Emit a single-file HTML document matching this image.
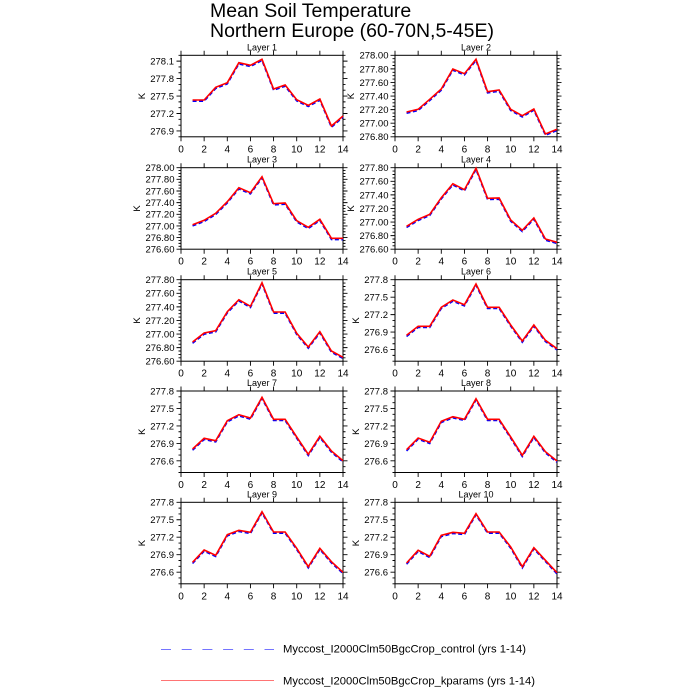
<!DOCTYPE html>
<html><head><meta charset="utf-8"><style>
html,body{margin:0;padding:0;background:#fff;}
svg{display:block;}
text{font-family:"Liberation Sans",Arial,sans-serif;fill:#000;}
.yl{font-size:9.5px;text-anchor:end;}
.xl{font-size:10px;text-anchor:middle;}
.lt{font-size:9px;text-anchor:middle;}
.k{font-size:9.5px;text-anchor:middle;}
.ti{font-size:19.5px;}
.lg{font-size:11.2px;}
.bx{fill:none;stroke:#000;stroke-width:1;}
.tk{fill:none;stroke:#000;stroke-width:0.9;}
.b{fill:none;stroke:#0000ff;stroke-width:1.6;stroke-dasharray:4,2.5;}
.r{fill:none;stroke:#ff0000;stroke-width:1.6;}
</style></head><body>
<svg width="700" height="700" viewBox="0 0 700 700" xmlns="http://www.w3.org/2000/svg" xmlns:xlink="http://www.w3.org/1999/xlink">
<defs>
<path id="xt" class="tk" d="M0,0v-4.5M23.14,0v-4.5M46.29,0v-4.5M69.43,0v-4.5M92.57,0v-4.5M115.71,0v-4.5M138.86,0v-4.5M162,0v-4.5M0,81.5v4.5M23.14,81.5v4.5M46.29,81.5v4.5M69.43,81.5v4.5M92.57,81.5v4.5M115.71,81.5v4.5M138.86,81.5v4.5M162,81.5v4.5"/>
<path id="ytA" class="tk" d="M0,5.82h-4.5M0,23.29h-4.5M0,40.75h-4.5M0,58.21h-4.5M0,75.68h-4.5M162,5.82h4.5M162,23.29h4.5M162,40.75h4.5M162,58.21h4.5M162,75.68h4.5M0,0h-2.5M0,11.64h-2.5M0,17.46h-2.5M0,29.11h-2.5M0,34.93h-2.5M0,46.57h-2.5M0,52.39h-2.5M0,64.04h-2.5M0,69.86h-2.5M0,81.5h-2.5M162,0h2.5M162,11.64h2.5M162,17.46h2.5M162,29.11h2.5M162,34.93h2.5M162,46.57h2.5M162,52.39h2.5M162,64.04h2.5M162,69.86h2.5M162,81.5h2.5"/>
<path id="ytB" class="tk" d="M0,0h-4.5M0,13.58h-4.5M0,27.17h-4.5M0,40.75h-4.5M0,54.33h-4.5M0,67.92h-4.5M0,81.5h-4.5M162,0h4.5M162,13.58h4.5M162,27.17h4.5M162,40.75h4.5M162,54.33h4.5M162,67.92h4.5M162,81.5h4.5M0,3.4h-2.5M0,6.79h-2.5M0,10.19h-2.5M0,16.98h-2.5M0,20.38h-2.5M0,23.77h-2.5M0,30.56h-2.5M0,33.96h-2.5M0,37.36h-2.5M0,44.15h-2.5M0,47.54h-2.5M0,50.94h-2.5M0,57.73h-2.5M0,61.13h-2.5M0,64.52h-2.5M0,71.31h-2.5M0,74.71h-2.5M0,78.1h-2.5M162,3.4h2.5M162,6.79h2.5M162,10.19h2.5M162,16.98h2.5M162,20.38h2.5M162,23.77h2.5M162,30.56h2.5M162,33.96h2.5M162,37.36h2.5M162,44.15h2.5M162,47.54h2.5M162,50.94h2.5M162,57.73h2.5M162,61.13h2.5M162,64.52h2.5M162,71.31h2.5M162,74.71h2.5M162,78.1h2.5"/>
<path id="ytC" class="tk" d="M0,0h-4.5M0,11.64h-4.5M0,23.29h-4.5M0,34.93h-4.5M0,46.57h-4.5M0,58.21h-4.5M0,69.86h-4.5M0,81.5h-4.5M162,0h4.5M162,11.64h4.5M162,23.29h4.5M162,34.93h4.5M162,46.57h4.5M162,58.21h4.5M162,69.86h4.5M162,81.5h4.5M0,2.91h-2.5M0,5.82h-2.5M0,8.73h-2.5M0,14.55h-2.5M0,17.46h-2.5M0,20.38h-2.5M0,26.2h-2.5M0,29.11h-2.5M0,32.02h-2.5M0,37.84h-2.5M0,40.75h-2.5M0,43.66h-2.5M0,49.49h-2.5M0,52.39h-2.5M0,55.3h-2.5M0,61.13h-2.5M0,64.04h-2.5M0,66.95h-2.5M0,72.77h-2.5M0,75.68h-2.5M0,78.59h-2.5M162,2.91h2.5M162,5.82h2.5M162,8.73h2.5M162,14.55h2.5M162,17.46h2.5M162,20.38h2.5M162,26.2h2.5M162,29.11h2.5M162,32.02h2.5M162,37.84h2.5M162,40.75h2.5M162,43.66h2.5M162,49.49h2.5M162,52.39h2.5M162,55.3h2.5M162,61.13h2.5M162,64.04h2.5M162,66.95h2.5M162,72.77h2.5M162,75.68h2.5M162,78.59h2.5"/>
<path id="ytE" class="tk" d="M0,0h-4.5M0,17.46h-4.5M0,34.93h-4.5M0,52.39h-4.5M0,69.86h-4.5M162,0h4.5M162,17.46h4.5M162,34.93h4.5M162,52.39h4.5M162,69.86h4.5M0,5.82h-2.5M0,11.64h-2.5M0,23.29h-2.5M0,29.11h-2.5M0,40.75h-2.5M0,46.57h-2.5M0,58.21h-2.5M0,64.04h-2.5M0,75.68h-2.5M0,81.5h-2.5M162,5.82h2.5M162,11.64h2.5M162,23.29h2.5M162,29.11h2.5M162,40.75h2.5M162,46.57h2.5M162,58.21h2.5M162,64.04h2.5M162,75.68h2.5M162,81.5h2.5"/>
</defs>

<text class="ti" x="210" y="17">Mean Soil Temperature</text>
<text class="ti" x="210" y="37">Northern Europe (60-70N,5-45E)</text>

<!-- Panel 1 -->
<g transform="translate(181,55.3)">
<rect class="bx" x="0" y="0" width="162" height="81.5"/>
<use xlink:href="#xt"/><use xlink:href="#ytA"/>
<polyline class="b" transform="translate(0,1.2)" points="11.57,44.7 23.14,44.7 34.71,32 46.29,27.4 57.86,7.4 69.43,10 81,4 92.57,33.7 104.14,29.7 115.71,44.4 127.29,50 138.86,43.7 150.43,70.7 162,60.7"/>
<polyline class="r" points="11.57,44.7 23.14,44.7 34.71,32 46.29,27.4 57.86,7.4 69.43,10 81,4 92.57,33.7 104.14,29.7 115.71,44.4 127.29,50 138.86,43.7 150.43,70.7 162,60.7"/>
<text class="lt" x="81" y="-5">Layer 1</text>
<text class="yl" x="-7" y="9.2">278.1</text><text class="yl" x="-7" y="26.7">277.8</text><text class="yl" x="-7" y="44.1">277.5</text><text class="yl" x="-7" y="61.6">277.2</text><text class="yl" x="-7" y="79.1">276.9</text>
<text class="k" transform="translate(-39.5,40.75) rotate(-90)" dy="3.5">K</text>
<text class="xl" x="0" y="97">0</text><text class="xl" x="23.14" y="97">2</text><text class="xl" x="46.29" y="97">4</text><text class="xl" x="69.43" y="97">6</text><text class="xl" x="92.57" y="97">8</text><text class="xl" x="115.71" y="97">10</text><text class="xl" x="138.86" y="97">12</text><text class="xl" x="162" y="97">14</text>
</g>

<!-- Panel 2 -->
<g transform="translate(395,55.3)">
<rect class="bx" x="0" y="0" width="162" height="81.5"/>
<use xlink:href="#xt"/><use xlink:href="#ytB"/>
<polyline class="b" transform="translate(0,1.2)" points="11.57,56.7 23.14,54 34.71,44 46.29,33.7 57.86,13.7 69.43,18.4 81,4 92.57,36.4 104.14,34.7 115.71,54 127.29,60.4 138.86,53.7 150.43,78.7 162,74"/>
<polyline class="r" points="11.57,56.7 23.14,54 34.71,44 46.29,33.7 57.86,13.7 69.43,18.4 81,4 92.57,36.4 104.14,34.7 115.71,54 127.29,60.4 138.86,53.7 150.43,78.7 162,74"/>
<text class="lt" x="81" y="-5">Layer 2</text>
<text class="yl" x="-6.5" y="3.4">278.00</text><text class="yl" x="-6.5" y="17">277.80</text><text class="yl" x="-6.5" y="30.6">277.60</text><text class="yl" x="-6.5" y="44.1">277.40</text><text class="yl" x="-6.5" y="57.7">277.20</text><text class="yl" x="-6.5" y="71.3">277.00</text><text class="yl" x="-6.5" y="84.9">276.80</text>
<text class="k" transform="translate(-44.5,40.75) rotate(-90)" dy="3.5">K</text>
<text class="xl" x="0" y="97">0</text><text class="xl" x="23.14" y="97">2</text><text class="xl" x="46.29" y="97">4</text><text class="xl" x="69.43" y="97">6</text><text class="xl" x="92.57" y="97">8</text><text class="xl" x="115.71" y="97">10</text><text class="xl" x="138.86" y="97">12</text><text class="xl" x="162" y="97">14</text>
</g>

<!-- Panel 3 -->
<g transform="translate(181,167.7)">
<rect class="bx" x="0" y="0" width="162" height="81.5"/>
<use xlink:href="#xt"/><use xlink:href="#ytC"/>
<polyline class="b" transform="translate(0,1.2)" points="11.57,57 23.14,52.6 34.71,45.6 46.29,34 57.86,20 69.43,25 81,9 92.57,36 104.14,35.3 115.71,53 127.29,59.6 138.86,51.6 150.43,70.6 162,70.8"/>
<polyline class="r" points="11.57,57 23.14,52.6 34.71,45.6 46.29,34 57.86,20 69.43,25 81,9 92.57,36 104.14,35.3 115.71,53 127.29,59.6 138.86,51.6 150.43,70.6 162,70.6"/>
<text class="lt" x="81" y="-5">Layer 3</text>
<text class="yl" x="-6.5" y="3.4">278.00</text><text class="yl" x="-6.5" y="15">277.80</text><text class="yl" x="-6.5" y="26.7">277.60</text><text class="yl" x="-6.5" y="38.3">277.40</text><text class="yl" x="-6.5" y="50">277.20</text><text class="yl" x="-6.5" y="61.6">277.00</text><text class="yl" x="-6.5" y="73.3">276.80</text><text class="yl" x="-6.5" y="84.9">276.60</text>
<text class="k" transform="translate(-44.5,40.75) rotate(-90)" dy="3.5">K</text>
<text class="xl" x="0" y="97">0</text><text class="xl" x="23.14" y="97">2</text><text class="xl" x="46.29" y="97">4</text><text class="xl" x="69.43" y="97">6</text><text class="xl" x="92.57" y="97">8</text><text class="xl" x="115.71" y="97">10</text><text class="xl" x="138.86" y="97">12</text><text class="xl" x="162" y="97">14</text>
</g>

<!-- Panel 4 -->
<g transform="translate(395,167.7)">
<rect class="bx" x="0" y="0" width="162" height="81.5"/>
<use xlink:href="#xt"/><use xlink:href="#ytB"/>
<polyline class="b" transform="translate(0,1.2)" points="11.57,58.6 23.14,51.6 34.71,46.6 46.29,30 57.86,16 69.43,22 81,0.6 92.57,30.6 104.14,30.3 115.71,52.3 127.29,62.6 138.86,50.3 150.43,71.3 162,74.6"/>
<polyline class="r" points="11.57,58.6 23.14,51.6 34.71,46.6 46.29,30 57.86,16 69.43,22 81,0.6 92.57,30.6 104.14,30.3 115.71,52.3 127.29,62.6 138.86,50.3 150.43,71.3 162,74.6"/>
<text class="lt" x="81" y="-5">Layer 4</text>
<text class="yl" x="-6.5" y="3.4">277.80</text><text class="yl" x="-6.5" y="17">277.60</text><text class="yl" x="-6.5" y="30.6">277.40</text><text class="yl" x="-6.5" y="44.1">277.20</text><text class="yl" x="-6.5" y="57.7">277.00</text><text class="yl" x="-6.5" y="71.3">276.80</text><text class="yl" x="-6.5" y="84.9">276.60</text>
<text class="k" transform="translate(-44.5,40.75) rotate(-90)" dy="3.5">K</text>
<text class="xl" x="0" y="97">0</text><text class="xl" x="23.14" y="97">2</text><text class="xl" x="46.29" y="97">4</text><text class="xl" x="69.43" y="97">6</text><text class="xl" x="92.57" y="97">8</text><text class="xl" x="115.71" y="97">10</text><text class="xl" x="138.86" y="97">12</text><text class="xl" x="162" y="97">14</text>
</g>

<!-- Panel 5 -->
<g transform="translate(181,279.7)">
<rect class="bx" x="0" y="0" width="162" height="81.5"/>
<use xlink:href="#xt"/><use xlink:href="#ytB"/>
<polyline class="b" transform="translate(0,1.2)" points="11.57,62.3 23.14,53.3 34.71,51 46.29,32 57.86,20 69.43,26.6 81,3 92.57,32.3 104.14,32.3 115.71,53.6 127.29,67.3 138.86,52 150.43,71.3 162,77.6"/>
<polyline class="r" points="11.57,62.3 23.14,53.3 34.71,51 46.29,32 57.86,20 69.43,26.6 81,3 92.57,32.3 104.14,32.3 115.71,53.6 127.29,67.3 138.86,52 150.43,71.3 162,77.6"/>
<text class="lt" x="81" y="-5">Layer 5</text>
<text class="yl" x="-6.5" y="3.4">277.80</text><text class="yl" x="-6.5" y="17">277.60</text><text class="yl" x="-6.5" y="30.6">277.40</text><text class="yl" x="-6.5" y="44.1">277.20</text><text class="yl" x="-6.5" y="57.7">277.00</text><text class="yl" x="-6.5" y="71.3">276.80</text><text class="yl" x="-6.5" y="84.9">276.60</text>
<text class="k" transform="translate(-44.5,40.75) rotate(-90)" dy="3.5">K</text>
<text class="xl" x="0" y="97">0</text><text class="xl" x="23.14" y="97">2</text><text class="xl" x="46.29" y="97">4</text><text class="xl" x="69.43" y="97">6</text><text class="xl" x="92.57" y="97">8</text><text class="xl" x="115.71" y="97">10</text><text class="xl" x="138.86" y="97">12</text><text class="xl" x="162" y="97">14</text>
</g>

<!-- Panel 6 -->
<g transform="translate(395,279.7)">
<rect class="bx" x="0" y="0" width="162" height="81.5"/>
<use xlink:href="#xt"/><use xlink:href="#ytE"/>
<polyline class="b" transform="translate(0,1.2)" points="11.57,55.6 23.14,46.6 34.71,46.6 46.29,27.6 57.86,20.3 69.43,25 81,4.3 92.57,27.6 104.14,27.6 115.71,45.3 127.29,61.3 138.86,45.3 150.43,60.6 162,69"/>
<polyline class="r" points="11.57,55.6 23.14,46.6 34.71,46.6 46.29,27.6 57.86,20.3 69.43,25 81,4.3 92.57,27.6 104.14,27.6 115.71,45.3 127.29,61.3 138.86,45.3 150.43,60.6 162,69"/>
<text class="lt" x="81" y="-5">Layer 6</text>
<text class="yl" x="-7" y="3.4">277.8</text><text class="yl" x="-7" y="20.9">277.5</text><text class="yl" x="-7" y="38.3">277.2</text><text class="yl" x="-7" y="55.8">276.9</text><text class="yl" x="-7" y="73.3">276.6</text>
<text class="k" transform="translate(-39.5,40.75) rotate(-90)" dy="3.5">K</text>
<text class="xl" x="0" y="97">0</text><text class="xl" x="23.14" y="97">2</text><text class="xl" x="46.29" y="97">4</text><text class="xl" x="69.43" y="97">6</text><text class="xl" x="92.57" y="97">8</text><text class="xl" x="115.71" y="97">10</text><text class="xl" x="138.86" y="97">12</text><text class="xl" x="162" y="97">14</text>
</g>

<!-- Panel 7 -->
<g transform="translate(181,391)">
<rect class="bx" x="0" y="0" width="162" height="81.5"/>
<use xlink:href="#xt"/><use xlink:href="#ytE"/>
<polyline class="b" transform="translate(0,1.2)" points="11.57,58 23.14,47.3 34.71,49.7 46.29,29.7 57.86,23.7 69.43,27 81,6.3 92.57,28.3 104.14,28.3 115.71,46 127.29,63.3 138.86,45.3 150.43,60 162,69.7"/>
<polyline class="r" points="11.57,58 23.14,47.3 34.71,49.7 46.29,29.7 57.86,23.7 69.43,27 81,6.3 92.57,28.3 104.14,28.3 115.71,46 127.29,63.3 138.86,45.3 150.43,60 162,69.7"/>
<text class="lt" x="81" y="-5">Layer 7</text>
<text class="yl" x="-7" y="3.4">277.8</text><text class="yl" x="-7" y="20.9">277.5</text><text class="yl" x="-7" y="38.3">277.2</text><text class="yl" x="-7" y="55.8">276.9</text><text class="yl" x="-7" y="73.3">276.6</text>
<text class="k" transform="translate(-39.5,40.75) rotate(-90)" dy="3.5">K</text>
<text class="xl" x="0" y="97">0</text><text class="xl" x="23.14" y="97">2</text><text class="xl" x="46.29" y="97">4</text><text class="xl" x="69.43" y="97">6</text><text class="xl" x="92.57" y="97">8</text><text class="xl" x="115.71" y="97">10</text><text class="xl" x="138.86" y="97">12</text><text class="xl" x="162" y="97">14</text>
</g>

<!-- Panel 8 -->
<g transform="translate(395,391)">
<rect class="bx" x="0" y="0" width="162" height="81.5"/>
<use xlink:href="#xt"/><use xlink:href="#ytE"/>
<polyline class="b" transform="translate(0,1.2)" points="11.57,58.7 23.14,47 34.71,51.3 46.29,30.3 57.86,25.7 69.43,28.3 81,7.7 92.57,28.3 104.14,28.3 115.71,46 127.29,64.3 138.86,45.3 150.43,60.7 162,70"/>
<polyline class="r" points="11.57,58.7 23.14,47 34.71,51.3 46.29,30.3 57.86,25.7 69.43,28.3 81,7.7 92.57,28.3 104.14,28.3 115.71,46 127.29,64.3 138.86,45.3 150.43,60.7 162,70"/>
<text class="lt" x="81" y="-5">Layer 8</text>
<text class="yl" x="-7" y="3.4">277.8</text><text class="yl" x="-7" y="20.9">277.5</text><text class="yl" x="-7" y="38.3">277.2</text><text class="yl" x="-7" y="55.8">276.9</text><text class="yl" x="-7" y="73.3">276.6</text>
<text class="k" transform="translate(-39.5,40.75) rotate(-90)" dy="3.5">K</text>
<text class="xl" x="0" y="97">0</text><text class="xl" x="23.14" y="97">2</text><text class="xl" x="46.29" y="97">4</text><text class="xl" x="69.43" y="97">6</text><text class="xl" x="92.57" y="97">8</text><text class="xl" x="115.71" y="97">10</text><text class="xl" x="138.86" y="97">12</text><text class="xl" x="162" y="97">14</text>
</g>

<!-- Panel 9 -->
<g transform="translate(181,502.3)">
<rect class="bx" x="0" y="0" width="162" height="81.5"/>
<use xlink:href="#xt"/><use xlink:href="#ytE"/>
<polyline class="b" transform="translate(0,1.2)" points="11.57,60 23.14,47.7 34.71,53 46.29,32.4 57.86,28 69.43,30 81,9.4 92.57,29.7 104.14,29.7 115.71,46 127.29,64.4 138.86,46 150.43,59.4 162,70"/>
<polyline class="r" points="11.57,60 23.14,47.7 34.71,53 46.29,32.4 57.86,28 69.43,30 81,9.4 92.57,29.7 104.14,29.7 115.71,46 127.29,64.4 138.86,46 150.43,59.4 162,70"/>
<text class="lt" x="81" y="-5">Layer 9</text>
<text class="yl" x="-7" y="3.4">277.8</text><text class="yl" x="-7" y="20.9">277.5</text><text class="yl" x="-7" y="38.3">277.2</text><text class="yl" x="-7" y="55.8">276.9</text><text class="yl" x="-7" y="73.3">276.6</text>
<text class="k" transform="translate(-39.5,40.75) rotate(-90)" dy="3.5">K</text>
<text class="xl" x="0" y="97">0</text><text class="xl" x="23.14" y="97">2</text><text class="xl" x="46.29" y="97">4</text><text class="xl" x="69.43" y="97">6</text><text class="xl" x="92.57" y="97">8</text><text class="xl" x="115.71" y="97">10</text><text class="xl" x="138.86" y="97">12</text><text class="xl" x="162" y="97">14</text>
</g>

<!-- Panel 10 -->
<g transform="translate(395,502.3)">
<rect class="bx" x="0" y="0" width="162" height="81.5"/>
<use xlink:href="#xt"/><use xlink:href="#ytE"/>
<polyline class="b" transform="translate(0,1.2)" points="11.57,60.7 23.14,48 34.71,54 46.29,33 57.86,30 69.43,31 81,11.4 92.57,29.7 104.14,29.7 115.71,44.7 127.29,64.4 138.86,45.4 150.43,58 162,70.4"/>
<polyline class="r" points="11.57,60.7 23.14,48 34.71,54 46.29,33 57.86,30 69.43,31 81,11.4 92.57,29.7 104.14,29.7 115.71,44.7 127.29,64.4 138.86,45.4 150.43,58 162,70.4"/>
<text class="lt" x="81" y="-5">Layer 10</text>
<text class="yl" x="-7" y="3.4">277.8</text><text class="yl" x="-7" y="20.9">277.5</text><text class="yl" x="-7" y="38.3">277.2</text><text class="yl" x="-7" y="55.8">276.9</text><text class="yl" x="-7" y="73.3">276.6</text>
<text class="k" transform="translate(-39.5,40.75) rotate(-90)" dy="3.5">K</text>
<text class="xl" x="0" y="97">0</text><text class="xl" x="23.14" y="97">2</text><text class="xl" x="46.29" y="97">4</text><text class="xl" x="69.43" y="97">6</text><text class="xl" x="92.57" y="97">8</text><text class="xl" x="115.71" y="97">10</text><text class="xl" x="138.86" y="97">12</text><text class="xl" x="162" y="97">14</text>
</g>

<!-- Legend -->
<line x1="161" y1="649.5" x2="274" y2="649.5" stroke="#7474ff" stroke-width="1" stroke-dasharray="10,10.7"/>
<text class="lg" x="283" y="652.6" textLength="243" lengthAdjust="spacingAndGlyphs">Myccost_I2000Clm50BgcCrop_control (yrs 1-14)</text>
<line x1="161" y1="680.5" x2="274" y2="680.5" stroke="#ff7474" stroke-width="1"/>
<text class="lg" x="283" y="684.4" textLength="252" lengthAdjust="spacingAndGlyphs">Myccost_I2000Clm50BgcCrop_kparams (yrs 1-14)</text>
</svg>
</body></html>
